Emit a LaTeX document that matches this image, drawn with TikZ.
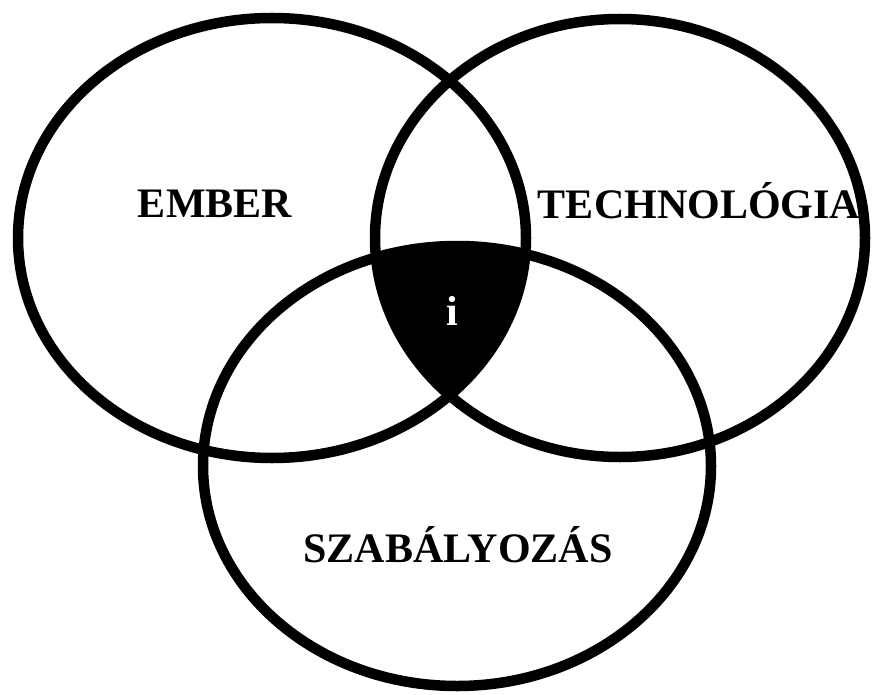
\documentclass[tikz,border=0pt]{standalone}
\usepackage{fontspec}
\setmainfont{Liberation Serif}
\begin{document}
\begin{tikzpicture}[x=1pt,y=-1pt,
  ring/.style={draw=black,line width=10.5pt},
  lbl/.style={font=\fontsize{42}{42}\selectfont\bfseries,anchor=base,inner sep=0pt}]
\useasboundingbox[fill=white] (0,0) rectangle (880,695);
\begin{scope}
  \clip (272,238) ellipse [x radius=254pt, y radius=220pt];
  \clip (620,238) ellipse [x radius=245pt, y radius=219pt];
  \fill[black] (457,466) ellipse [x radius=254pt, y radius=220pt];
\end{scope}
\draw[ring] (272,238) ellipse [x radius=254pt, y radius=220pt];
\draw[ring] (620,238) ellipse [x radius=245pt, y radius=219pt];
\draw[ring] (457,466) ellipse [x radius=254pt, y radius=220pt];
\node[lbl] (ember) at (215,217) {EMBER};
\node[lbl] (tech) at (699,218) {TECHNOLÓGIA};
\node[lbl] (szab) at (458,562) {SZABÁLYOZÁS};
\node[lbl,text=white] (info) at (452,325) {i};
\end{tikzpicture}
\end{document}
